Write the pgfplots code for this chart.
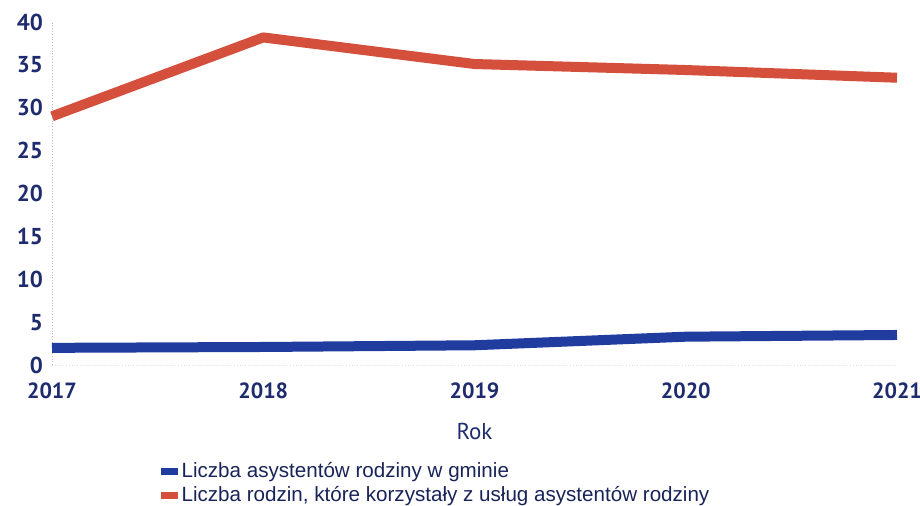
\documentclass[border=0pt]{standalone}
\usepackage{pgfplots}
\pgfplotsset{compat=1.18}
\usepackage{fontspec}
\setmainfont{Liberation Sans}
\newfontfamily\tickfont{PT Sans}
\definecolor{navy}{HTML}{1E2C6E}
\definecolor{lblue}{HTML}{1F3C9E}
\definecolor{lred}{HTML}{D4503C}
\begin{document}
\begin{tikzpicture}
\path[use as bounding box] (-26pt,-70.5pt) rectangle (434pt,182.5pt);
\begin{axis}[
  scale only axis,
  width=422.5pt, height=171.5pt,
  xmin=2017, xmax=2021, ymin=0, ymax=40,
  xtick={2017,2018,2019,2020,2021},
  ytick={0,5,...,40},
  /pgf/number format/assume math mode=true,
  xticklabel style={/pgf/number format/1000 sep={}, font=\tickfont\bfseries\fontsize{11}{12}\selectfont, text=navy, yshift=-5.5pt},
  yticklabel style={font=\tickfont\bfseries\fontsize{11.5}{12}\selectfont, text=navy, xshift=-1pt},
  axis x line*=bottom, axis y line*=left,
  x axis line style={draw=black!12, densely dotted},
  y axis line style={draw=black!25, densely dotted},
  major tick length=0pt,
  xlabel={Rok},
  xlabel style={font=\tickfont\fontsize{11.5}{12}\selectfont, text=navy, yshift=-5pt},
  clip=false,
  legend cell align=left,
  legend style={at={(axis description cs:0.128,-0.272)}, anchor=north west, draw=none, fill=none,
    font=\fontsize{10.3}{12}\selectfont, text=navy!80!black, row sep=-1.2pt, inner sep=0pt},
  legend image code/.code={\fill[#1, draw=none, line width=0pt] (0pt,-1.7pt) rectangle (8.5pt,1.7pt);},
]
\addplot[lblue, line width=5pt, line join=round] coordinates {
  (2017,2.0) (2018,2.1) (2019,2.3) (2020,3.3) (2021,3.5)};
\addlegendentry{Liczba asystentów rodziny w gminie}
\addplot[lred, line width=5pt, line join=round] coordinates {
  (2017,29.0) (2018,38.2) (2019,35.1) (2020,34.4) (2021,33.5)};
\addlegendentry{Liczba rodzin, które korzystały z usług asystentów rodziny}
\end{axis}
\end{tikzpicture}
\end{document}
